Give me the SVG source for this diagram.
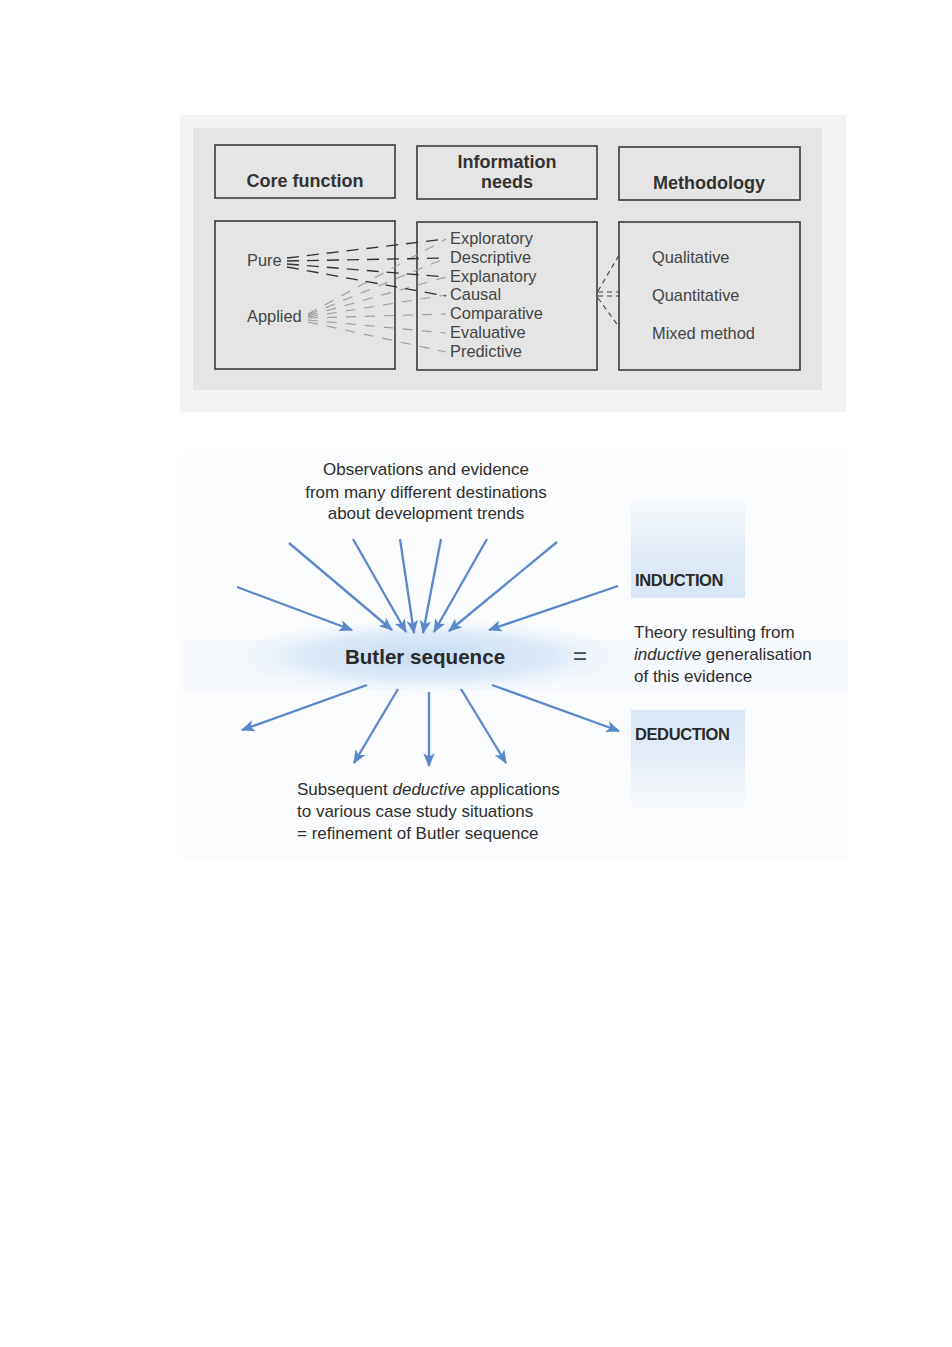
<svg xmlns="http://www.w3.org/2000/svg" width="952" height="1347" viewBox="0 0 952 1347">
<defs>
<style>
.hdr{font-family:"Liberation Sans",Arial,sans-serif;font-weight:bold;font-size:18px;fill:#333;text-anchor:middle}
.box{fill:none;stroke:#3a3a3a;stroke-width:1.6}
.t1{font-family:"Liberation Sans",Arial,sans-serif;font-size:16.4px;fill:#444}
.t2{font-family:"Liberation Sans",Arial,sans-serif;font-size:17px;fill:#2e2e2e}
.lab{font-family:"Liberation Sans",Arial,sans-serif;font-weight:bold;font-size:16.5px;fill:#2a2a2a;letter-spacing:-0.4px}
.pure{stroke:#333;stroke-width:1.3;stroke-dasharray:12 8;fill:none}
.app{stroke:#9a9a9a;stroke-width:1.1;stroke-dasharray:10 9;fill:none}
.meth{stroke:#444;stroke-width:1.1;stroke-dasharray:5 4;fill:none}
.arr{stroke:#5b87cb;stroke-width:2.3;fill:none;marker-end:url(#ah)}
</style>
<marker id="ah" viewBox="0 0 12 10" refX="11" refY="5" markerWidth="6" markerHeight="5" markerUnits="strokeWidth" orient="auto">
<path d="M0,0 L12,5 L0,10 L3,5 z" fill="#5b87cb"/>
</marker>
<radialGradient id="glow" cx="0.5" cy="0.5" r="0.5">
<stop offset="0" stop-color="#c6dcf3" stop-opacity="1"/>
<stop offset="0.6" stop-color="#d4e5f6" stop-opacity="0.8"/>
<stop offset="1" stop-color="#e8f1fb" stop-opacity="0"/>
</radialGradient>
<linearGradient id="indg" x1="0" y1="0" x2="0" y2="1">
<stop offset="0" stop-color="#dfeaf7" stop-opacity="0.2"/>
<stop offset="0.5" stop-color="#dbe8f6" stop-opacity="0.8"/>
<stop offset="1" stop-color="#d8e6f6" stop-opacity="1"/>
</linearGradient>
<linearGradient id="dedg" x1="0" y1="0" x2="0" y2="1">
<stop offset="0" stop-color="#d8e6f6" stop-opacity="1"/>
<stop offset="0.5" stop-color="#dfeaf7" stop-opacity="0.8"/>
<stop offset="1" stop-color="#e6eff9" stop-opacity="0.1"/>
</linearGradient>
</defs>
<rect width="952" height="1347" fill="#ffffff"/>

<!-- top panel backgrounds -->
<rect x="180" y="115" width="666" height="297" fill="#f4f4f4"/>
<rect x="193" y="128" width="629" height="262" fill="#e5e5e5"/>

<g id="core-function">
<rect class="box" x="215" y="145" width="180" height="53"/>
<text class="hdr" x="305" y="187">Core function</text>
</g>
<g id="information-needs">
<rect class="box" x="417" y="146" width="180" height="53"/>
<text class="hdr" x="507" y="168">Information</text>
<text class="hdr" x="507" y="188">needs</text>
</g>
<g id="methodology">
<rect class="box" x="619" y="147" width="181" height="53"/>
<text class="hdr" x="709" y="189">Methodology</text>
</g>

<g id="core-types">
<rect class="box" x="215" y="221" width="180" height="148"/>
<text class="t1" x="247" y="266">Pure</text>
<text class="t1" x="247" y="322">Applied</text>
</g>
<g id="info-types">
<rect class="box" x="417" y="222" width="180" height="148"/>
<text class="t1" x="450" y="244">Exploratory</text>
<text class="t1" x="450" y="263">Descriptive</text>
<text class="t1" x="450" y="282">Explanatory</text>
<text class="t1" x="450" y="300">Causal</text>
<text class="t1" x="450" y="319">Comparative</text>
<text class="t1" x="450" y="338">Evaluative</text>
<text class="t1" x="450" y="357">Predictive</text>
</g>
<g id="method-types">
<rect class="box" x="619" y="222" width="181" height="148"/>
<text class="t1" x="652" y="263">Qualitative</text>
<text class="t1" x="652" y="301">Quantitative</text>
<text class="t1" x="652" y="339">Mixed method</text>
</g>

<g id="panel-connectors">
<line class="app" x1="308" y1="314" x2="446" y2="239"/>
<line class="app" x1="308" y1="315" x2="446" y2="258"/>
<line class="app" x1="308" y1="316" x2="446" y2="277"/>
<line class="app" x1="308" y1="317" x2="446" y2="295"/>
<line class="app" x1="308" y1="318" x2="446" y2="314"/>
<line class="app" x1="308" y1="320" x2="446" y2="333"/>
<line class="app" x1="308" y1="322" x2="446" y2="352"/>
<line class="pure" x1="287" y1="258" x2="446" y2="239"/>
<line class="pure" x1="287" y1="261" x2="446" y2="258"/>
<line class="pure" x1="287" y1="264" x2="446" y2="277"/>
<line class="pure" x1="287" y1="267" x2="446" y2="296"/>
<line class="meth" x1="598" y1="291" x2="619" y2="255"/>
<line class="meth" x1="598" y1="292" x2="619" y2="292"/>
<line class="meth" x1="598" y1="296" x2="619" y2="296"/>
<line class="meth" x1="598" y1="298" x2="619" y2="327"/>
</g>

<!-- bottom diagram -->
<rect x="183" y="455" width="665" height="405" fill="#fbfcfd"/>
<rect x="183" y="640" width="665" height="50" fill="#eef4fb" opacity="0.35"/>
<g id="induction-box">
<rect x="631" y="500" width="114" height="98" fill="url(#indg)"/>
<text class="lab" x="635" y="586">INDUCTION</text>
</g>
<g id="deduction-box">
<rect x="631" y="710" width="114" height="100" fill="url(#dedg)"/>
<text class="lab" x="635" y="740">DEDUCTION</text>
</g>

<g id="butler-sequence">
<ellipse cx="428" cy="656" rx="205" ry="38" fill="url(#glow)"/>
<text x="425" y="664" text-anchor="middle" font-family="'Liberation Sans',Arial,sans-serif" font-weight="bold" font-size="20.6px" fill="#2a2a2a">Butler sequence</text>
</g>
<g id="equals">
<text x="580" y="664" text-anchor="middle" font-family="'Liberation Sans',Arial,sans-serif" font-size="24px" fill="#444">=</text>
</g>

<g id="observations">
<text class="t2" x="426" y="475" text-anchor="middle">Observations and evidence</text>
<text class="t2" x="426" y="498" text-anchor="middle">from many different destinations</text>
<text class="t2" x="426" y="519" text-anchor="middle">about development trends</text>
</g>
<g id="theory">
<text class="t2" x="634" y="638">Theory resulting from</text>
<text class="t2" x="634" y="660"><tspan font-style="italic">inductive</tspan> generalisation</text>
<text class="t2" x="634" y="682">of this evidence</text>
</g>
<g id="subsequent">
<text class="t2" x="297" y="795">Subsequent <tspan font-style="italic">deductive</tspan> applications</text>
<text class="t2" x="297" y="817">to various case study situations</text>
<text class="t2" x="297" y="839">= refinement of Butler sequence</text>
</g>

<g id="connectors">
<line class="arr" x1="237" y1="587" x2="352" y2="630"/>
<line class="arr" x1="289" y1="543" x2="392" y2="630"/>
<line class="arr" x1="353" y1="539" x2="406" y2="632"/>
<line class="arr" x1="400" y1="539" x2="414" y2="633"/>
<line class="arr" x1="441" y1="539" x2="423" y2="633"/>
<line class="arr" x1="487" y1="539" x2="434" y2="632"/>
<line class="arr" x1="557" y1="542" x2="449" y2="631"/>
<line class="arr" x1="618" y1="586" x2="489" y2="630"/>
<line class="arr" x1="367" y1="685" x2="242" y2="730"/>
<line class="arr" x1="398" y1="689" x2="354" y2="763"/>
<line class="arr" x1="429" y1="692" x2="429" y2="766"/>
<line class="arr" x1="461" y1="689" x2="506" y2="763"/>
<line class="arr" x1="492" y1="685" x2="619" y2="731"/>
</g>
</svg>
